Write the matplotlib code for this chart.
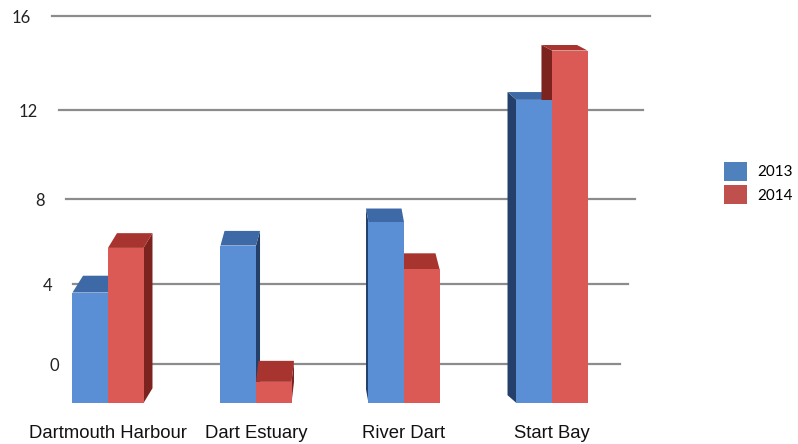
import numpy as np
import matplotlib
matplotlib.use("Agg")
import matplotlib.pyplot as plt
from matplotlib.patches import Polygon, Patch

categories = ["Dartmouth Harbour", "Dart Estuary", "River Dart", "Start Bay"]
series_names = ["2013", "2014"]
values_2013 = [4.7, 6.7, 7.7, 12.9]
values_2014 = [6.6, 0.9, 5.7, 15.0]
y_ticks = [0, 4, 8, 12, 16]

W, H = 798, 444
fig = plt.figure(figsize=(W / 100, H / 100), dpi=100)

# ---------- back wall (gridlines with perspective) ----------
k = 0.00721
def fwd(v):
    v = np.asarray(v, dtype=float)
    return v + k * v * v
def inv(y):
    y = np.asarray(y, dtype=float)
    return (-1 + np.sqrt(np.clip(1 + 4 * k * y, 0, None))) / (2 * k)

ylo, yhi = -0.5, 16.5
b_px = 364 + 19.5 * (-fwd(ylo))
t_px = 364 - 19.5 * fwd(yhi)
back = fig.add_axes([0, (H - b_px) / H, 1, (b_px - t_px) / H])
back.set_yscale("function", functions=(fwd, inv))
back.set_ylim(ylo, yhi)
back.set_xlim(0, 1)
back.axis("off")
for v in y_ticks:
    xs = (80 - 1.75 * v) / W
    xe = (620 + 1.875 * v) / W
    back.axhline(v, xmin=xs, xmax=xe, color="#8c8c8c", lw=1.6, zorder=1)
    back.text(xs - 21 / W, v - 0.1, str(v), ha="right", va="center",
              fontsize=12, family="Lato", color="#222222")

# ---------- front bars ----------
base_px, px_per_unit = 403, 23.5
left_px, right_px = 30, 650
c0_px, step_px = 108, 148
front = fig.add_axes([left_px / W, (H - base_px) / H,
                      (right_px - left_px) / W, (base_px - 16) / H])
front.patch.set_alpha(0)
front.set_xlim((left_px - c0_px) / step_px, (right_px - c0_px) / step_px)
front.set_ylim(0, (base_px - 16) / px_per_unit)

x = np.arange(len(categories))
w = 0.24
front_cols = ["#5a8fd6", "#dc5a55"]
top_cols = ["#3d6aa6", "#a8342f"]
side_cols = ["#24406a", "#7c2320"]
legend_cols = ["#4f81bd", "#c0504d"]

xc = 1.5
for i, vals in enumerate([values_2013, values_2014]):
    pos = x + (i - 0.5) * w
    bars = front.bar(pos, vals, w, color=front_cols[i], zorder=3, linewidth=0)
    for rect in bars:
        x0 = rect.get_x()
        x1 = x0 + rect.get_width()
        h = rect.get_height()
        xm = x0 + rect.get_width() / 2
        dx = 6.5 * (xc - xm) / step_px
        dy = (22 - 1.1 * h) / px_per_unit
        top = Polygon([(x0, h), (x1, h), (x1 + dx, h + dy), (x0 + dx, h + dy)],
                      closed=True, facecolor=top_cols[i], edgecolor="none", zorder=2)
        xs_ = x1 if dx > 0 else x0
        side = Polygon([(xs_, 0), (xs_, h), (xs_ + dx, h + dy), (xs_ + dx, dy)],
                       closed=True, facecolor=side_cols[i], edgecolor="none", zorder=2)
        front.add_patch(side)
        front.add_patch(top)

front.set_xticks(x)
front.set_xticklabels(categories, fontsize=13.3, family="Liberation Sans", color="#111111")
front.tick_params(axis="x", length=0, pad=16)
front.set_yticks([])
for s in front.spines.values():
    s.set_visible(False)

handles = [Patch(facecolor=c, edgecolor="none") for c in legend_cols]
fig.legend(handles, series_names, loc="upper left",
           bbox_to_anchor=(718 / W, 1 - 156 / H), frameon=False,
           prop={"family": "Lato", "size": 11}, handlelength=1.5, handleheight=1.5,
           handletextpad=0.7, labelspacing=0.3, borderaxespad=0)

fig.savefig("out.png", dpi=100)
